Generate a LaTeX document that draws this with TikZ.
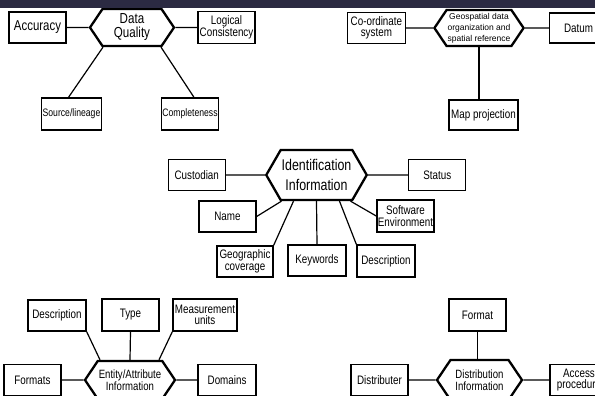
\documentclass[tikz,border=0pt]{standalone}
\usepackage{fontspec}
\setmainfont[FakeStretch=0.8]{Liberation Sans}
\newfontfamily\widesans{Liberation Sans}
\usepackage{tikz}
\usetikzlibrary{positioning, shapes.symbols}
\definecolor{banner}{HTML}{2B2A42}
\tikzstyle{attr}=[rectangle, draw=black, line width=1.3pt, minimum width=57pt, minimum height=31pt, inner sep=1pt, align=center, font=\fontsize{12.3}{11.5}\selectfont]
\tikzstyle{hub}=[signal, signal to=east and west, signal pointer angle=112, draw=black, line width=2.3pt, inner sep=1pt, align=center, font=\fontsize{12}{11.5}\selectfont]
\tikzstyle{link}=[draw=black, line width=1.2pt]

\begin{document}
\begin{tikzpicture}[x=1pt, y=-1pt]
  \useasboundingbox (0,0) rectangle (595,396);
  \clip (0,0) rectangle (595,396);

  % data quality
  \node[hub, minimum width=84pt, minimum height=37pt, font=\fontsize{14.5}{14}\selectfont] (dq) at (132,27.5) {Data\\Quality};
  \node[attr, font=\fontsize{14.3}{14}\selectfont] (acc) [left=22pt of dq] {Accuracy};
  \node[attr, minimum height=32pt, font=\fontsize{12.3}{11}\selectfont] (logic) [right=22pt of dq] {Logical\\Consistency};
  \node[attr, minimum width=59pt, minimum height=32pt, font=\fontsize{10.8}{11}\selectfont] (src) at (71.5,114) {Source/lineage};
  \node[attr, minimum height=32pt, font=\fontsize{10.8}{11}\selectfont] (compl) at (190,114) {Completeness};
  \draw[link] (acc) -- (dq);
  \draw[link] (dq) -- (logic);
  \draw[link] ([xshift=-29pt]dq.south) -- ([xshift=-3pt]src.north);
  \draw[link] ([xshift=29pt]dq.south) -- ([xshift=4pt]compl.north);

  % spatial reference
  \node[hub, minimum width=88pt, minimum height=36pt, font=\widesans\fontsize{8.5}{11}\selectfont] (geo) at (479,28) {Geospatial data\\organization and\\spatial reference};
  \node[attr, minimum width=58pt] (coord) [left=27pt of geo] {Co-ordinate\\system};
  \node[attr, minimum width=58pt, minimum height=30pt] (datum) [right=24pt of geo] {Datum};
  \node[attr, minimum width=69pt, minimum height=30pt] (proj) at (483.5,115) {Map projection};
  \draw[link] (coord) -- (geo);
  \draw[link] (geo) -- (datum);
  \draw[link] (geo.south) -- ([xshift=-4.5pt]proj.north);

  % identification
  \node[hub, signal pointer angle=120, minimum width=97pt, minimum height=50pt, font=\fontsize{15.5}{20}\selectfont] (ident) at (316.5,175) {Identification\\Information};
  \node[attr] (cust) [left=39pt of ident] {Custodian};
  \node[attr] (status) [right=40pt of ident] {Status};
  \node[attr] (name) at (227.5,216.5) {Name};
  \node[attr, minimum height=32pt] (soft) at (405.5,216) {Software\\Environment};
  \node[attr, minimum width=56pt] (cover) at (245,261.5) {Geographic\\coverage};
  \node[attr, minimum width=58pt] (keyw) at (317,260.5) {Keywords};
  \node[attr, minimum width=58pt, minimum height=32pt] (descr) at (386,261) {Description};
  \draw[link] (cust) -- (ident);
  \draw[link] (ident) -- (status);
  \draw[link] ([xshift=-35pt]ident.south) -- (name.east);
  \draw[link] ([xshift=-23pt]ident.south) -- (cover.north east);
  \draw[link] (ident.south) -- (keyw.north);
  \draw[link] ([xshift=23pt]ident.south) -- (descr.north west);
  \draw[link] ([xshift=34pt]ident.south) -- (soft.west);

  % entity and attribute
  \node[hub, minimum width=84pt, minimum height=38pt, font=\fontsize{12}{11}\selectfont] (entity) at (130,380) {Entity/Attribute\\Information};
  \node[attr, minimum width=58pt] (edescr) at (57,315.5) {Description};
  \node[attr, minimum height=32pt] (etype) at (130.5,315) {Type};
  \node[attr, minimum width=64pt, minimum height=32pt] (units) at (205,315) {Measurement\\units};
  \node[attr] (fmts) [left=22pt of entity] {Formats};
  \node[attr, minimum width=58pt] (doms) [right=21pt of entity] {Domains};
  \draw[link] (edescr.south east) -- ([xshift=-30pt]entity.north);
  \draw[link] (etype.south) -- (entity.north);
  \draw[link] (units.south west) -- ([xshift=29pt]entity.north);
  \draw[link] (fmts) -- (entity);
  \draw[link] (entity) -- (doms);

  % distribution
  \node[hub, minimum width=85pt, minimum height=40pt] (distr) at (479.5,380) {Distribution\\Information};
  \node[attr, minimum height=32pt] (fmt) at (477.5,315) {Format};
  \node[attr] (distrib) [left=27pt of distr] {Distributer};
  \node[attr, minimum width=58pt] (access) [right=26pt of distr] {Access\\procedure};
  \draw[link] (fmt.south) -- (fmt.south |- distr.north);
  \draw[link] (distrib) -- (distr);
  \draw[link] (distr) -- (access);

  \fill[banner] (0,0) rectangle (595,8);
\end{tikzpicture}
\end{document}
